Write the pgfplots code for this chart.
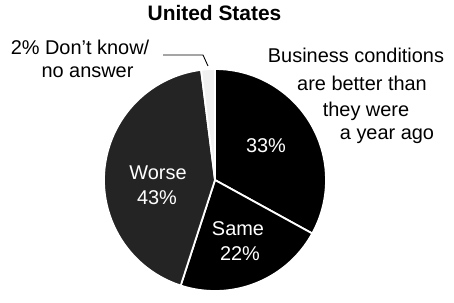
\documentclass[border=0pt]{standalone}
\usepackage{pgfplots}
\pgfplotsset{compat=1.18}
\usepackage{pgfplotstable}
\usepackage{fontspec}
\setmainfont{Liberation Sans}

\pgfplotstableread{
label pct
Better 33
Same 22
Worse 43
DK 2
}\piedata

\begin{document}
\begin{tikzpicture}
\pgfplotstablegetelem{0}{pct}\of\piedata \pgfmathsetmacro\pa{\pgfplotsretval}
\pgfplotstablegetelem{1}{pct}\of\piedata \pgfmathsetmacro\pb{\pgfplotsretval}
\pgfplotstablegetelem{2}{pct}\of\piedata \pgfmathsetmacro\pc{\pgfplotsretval}
\pgfplotstablegetelem{3}{pct}\of\piedata \pgfmathsetmacro\pd{\pgfplotsretval}
\pgfmathsetmacro\aA{90}
\pgfmathsetmacro\aB{\aA-3.6*\pa}
\pgfmathsetmacro\aC{\aB-3.6*\pb}
\pgfmathsetmacro\aD{\aC-3.6*\pc}
\pgfmathsetmacro\aE{\aD-3.6*\pd}
\begin{axis}[width=454bp,height=295bp,scale only axis,
  xmin=0,xmax=454,ymin=0,ymax=295,hide axis,clip=false]
\path (axis cs:0,0) rectangle (axis cs:454,295);
\fill[black,draw=white,line width=1.8bp] (axis cs:215,115) -- ++(\aA:111bp) arc[start angle=\aA,end angle=\aB,radius=111bp] -- cycle;
\fill[black,draw=white,line width=1.8bp] (axis cs:215,115) -- ++(\aB:111bp) arc[start angle=\aB,end angle=\aC,radius=111bp] -- cycle;
\fill[black!86,draw=white,line width=1.8bp] (axis cs:215,115) -- ++(\aC:111bp) arc[start angle=\aC,end angle=\aD,radius=111bp] -- cycle;
\fill[black!6,draw=white,line width=1.8bp] (axis cs:215,115) -- ++(\aD:111bp) arc[start angle=\aD,end angle=\aE,radius=111bp] -- cycle;
\draw[black,line width=0.9bp] (axis cs:163,240) -- (axis cs:203,240) -- (axis cs:208,229);
\node[anchor=base,font=\fontsize{21}{24}\selectfont\bfseries] at (axis cs:214.5,274) {United States};
\begin{scope}[every node/.style={anchor=base,font=\fontsize{20}{24}\selectfont}]
\node at (axis cs:356,232) {Business conditions};
\node at (axis cs:362,204) {are better than};
\node at (axis cs:366,178) {they were};
\node at (axis cs:387,155) {a year ago};
\node at (axis cs:80,240) {2\% Don't know/};
\node at (axis cs:87.5,217) {no answer};
\node[text=white] at (axis cs:266,142) {33\%};
\node[text=white] at (axis cs:238,59) {Same};
\node[text=white] at (axis cs:240,35) {22\%};
\node[text=white] at (axis cs:158,115) {Worse};
\node[text=white] at (axis cs:157,90) {43\%};
\end{scope}
\end{axis}
\end{tikzpicture}
\end{document}
